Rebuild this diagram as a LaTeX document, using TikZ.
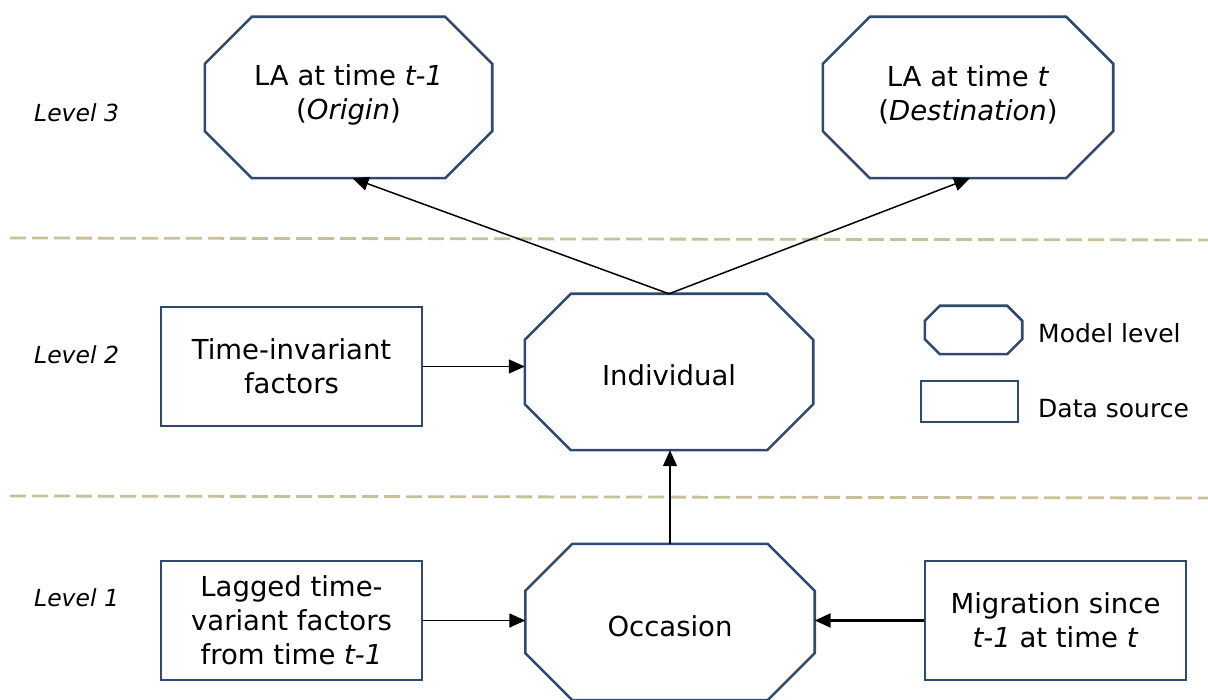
\documentclass[tikz,border=0pt]{standalone}
\usepackage{fontspec}
\setmainfont{DejaVu Sans}
\usetikzlibrary{arrows.meta}
\definecolor{boxblue}{RGB}{47,74,108}
\definecolor{tan}{RGB}{200,192,152}
\tikzset{
  mainfont/.style={font=\fontsize{27.5}{34}\selectfont},
  shapebox/.style={draw=none,minimum width=#1,inner sep=0pt,align=center,mainfont},
  datarect/.style={draw=boxblue,line width=2.6pt,inner sep=0pt,align=center,mainfont},
  octline/.style={draw=boxblue,line width=2.6pt,line join=miter},
  arr/.style={-{Triangle[length=16pt,width=14pt]},line width=1.5pt},
  levellabel/.style={anchor=west,font=\fontsize{23.5}{26}\selectfont\itshape,inner sep=0pt},
  legendtext/.style={anchor=west,font=\fontsize{25}{28}\selectfont,inner sep=0pt},
  divider/.style={draw=tan,line width=2.8pt,dash pattern=on 16pt off 6pt}
}
\newcommand{\octo}[2]{%
  \draw[octline] ([xshift=#2]#1.north west) -- ([xshift=-#2]#1.north east)
   -- ([yshift=-#2]#1.north east) -- ([yshift=#2]#1.south east)
   -- ([xshift=-#2]#1.south east) -- ([xshift=#2]#1.south west)
   -- ([yshift=#2]#1.south west) -- ([yshift=-#2]#1.north west) -- cycle;}
\begin{document}
\begin{tikzpicture}[x=1pt,y=-1pt]
\useasboundingbox (0,0) rectangle (1208,700);
% dividers
\coordinate (d1a) at (10,238); \coordinate (d1b) at (1208,240);
\coordinate (d2a) at (10,496); \coordinate (d2b) at (1208,498);
\draw[divider] (d1a) -- (d1b);
\draw[divider] (d2a) -- (d2b);
% octagon nodes
\node[minimum width=287pt,minimum height=161pt,inner sep=0pt] (o1) at (348.5,97.5) {};
\node[minimum width=290pt,minimum height=161pt,inner sep=0pt] (o2) at (968,97.5) {};
\node[minimum width=288pt,minimum height=156pt,inner sep=0pt] (ind) at (669,372) {};
\node[minimum width=289pt,minimum height=156pt,inner sep=0pt] (occ) at (670,622) {};
\octo{o1}{47pt}
\octo{o2}{47pt}
\octo{ind}{46pt}
\octo{occ}{47pt}
\node[shapebox=200pt] (indt) at (669,375) {Individual};
\node[shapebox=200pt] (occt) at (670,626) {Occasion};
\node[shapebox=280pt] (o1t) at (348.5,95) {LA at time \textit{t-1}\\(\textit{Origin})};
\node[shapebox=280pt] (o2t) at (968,95) {LA at time \textit{t}\\(\textit{Destination})};
% data rectangles
\node[datarect,minimum width=261pt,minimum height=119pt] (r1) at (291.5,366.5) {Time-invariant\\factors};
\node[datarect,minimum width=261pt,minimum height=119pt] (r2) at (291.5,620.5) {Lagged time-\\variant factors\\from time \textit{t-1}};
\node[datarect,minimum width=261pt,minimum height=119pt] (r3) at (1055.5,620.5) {Migration since\\\textit{t-1} at time \textit{t}};
% legend
\node[minimum width=97pt,minimum height=48pt,inner sep=0pt] (lo) at (973.5,330) {};
\octo{lo}{15pt}
\node[draw=boxblue,line width=2.6pt,minimum width=97pt,minimum height=41pt,inner sep=0pt] (lr) at (969.5,401.5) {};
\node[legendtext] (lot) at (1038,333) {Model level};
\node[legendtext] (lrt) at (1038,409) {Data source};
% level labels
\node[levellabel] (l3) at (34,113) {Level 3};
\node[levellabel] (l2) at (34,355) {Level 2};
\node[levellabel] (l1) at (34,598) {Level 1};
% connectors
\draw[arr] (ind.north) -- ([xshift=4pt]o1.south);
\draw[arr] (ind.north) -- ([xshift=2pt]o2.south);
\draw[arr] (occ.north) -- (occ.north |- ind.south);
\draw[arr] (r1.east) -- (r1.east -| ind.west);
\draw[arr] (r2.east) -- (r2.east -| occ.west);
\draw[arr,line width=2.2pt] (r3.west) -- (r3.west -| occ.east);
\end{tikzpicture}
\end{document}
